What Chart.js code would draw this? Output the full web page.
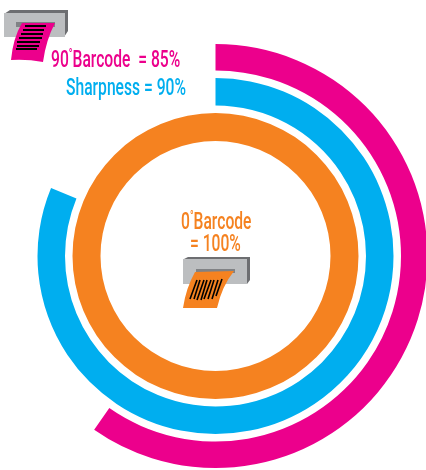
<!DOCTYPE html>
<html>
<head>
<meta charset="utf-8">
<script src="https://cdn.jsdelivr.net/npm/chart.js@4/dist/chart.umd.min.js"></script>
<style>
    html, body { margin: 0; padding: 0; background: #fff; overflow: hidden; }
    #wrap { position: relative; width: 426px; height: 470px; overflow: hidden; }
    #chart { position: absolute; left: 0; top: 0; }
    #icons { position: absolute; left: 0; top: 0; }
    .lbl {
        position: absolute;
        font-family: "Roboto", sans-serif;
        font-size: 23px;
        font-weight: 500;
        line-height: 24px;
        white-space: pre;
        transform-origin: left top;
        transform: scaleX(0.68);
    }
    .deg { font-size: 14px; vertical-align: 8px; }
</style>
</head>
<body>
<div id="wrap">
    <canvas id="chart" width="440" height="470"></canvas>
    <svg id="icons" width="426" height="470">
        <!-- printer, top left -->
        <polygon points="4,14 10,10 68,10 68,31 64,37 64,14" fill="#6d6e71"/>
        <rect x="4" y="13" width="61" height="24" fill="#bcbec0"/>
        <rect x="16" y="22" width="39" height="5" fill="#808285"/>
        <path d="M22,23 L55,23 Q46,40 43,62 Q27,59 11,60 Q13,38 22,23 Z" fill="#ec008c"/>
        <path d="M25,26 H46 M23,30 H44 M21,34 H43 M19,38 H42 M17,42 H40 M17,46 H39 M16,49 H37" stroke="#000" stroke-width="2" fill="none"/>
        <!-- printer, centre -->
        <polygon points="184,259 188,257 250,257 250,280 247,284" fill="#6d6e71"/>
        <rect x="183" y="259" width="64" height="25" fill="#bcbec0"/>
        <rect x="196" y="269" width="39" height="4" fill="#808285"/>
        <path d="M195,272 L234,271 Q222,286 217,308 L183,308 Q186,288 195,272 Z" fill="#f58220"/>
        <path d="M197,280 L190,299 M200,280 L194,299 M204,280 L197,300 M207,280 L201,300 M211,280 L204,299 M214,280 L208,299 M218,280 L212,299 M222,279 L216,296" stroke="#000" stroke-width="1.6" fill="none"/>
    </svg>
    <span class="lbl" style="left:51px;top:42px;color:#ec008c;">90<span class="deg" style="font-weight:bold;">°</span>Barcode  = 85%</span>
    <span class="lbl" style="left:66px;top:76px;color:#00aeef;">Sharpness = 90%</span>
    <span class="lbl" style="left:181px;top:204px;color:#f58220;">0<span class="deg">°</span>Barcode</span>
    <span class="lbl" style="left:190px;top:232px;color:#f58220;">= 100%</span>
</div>
<script>
// Arc lengths as drawn (percent of the full circle)
const ringNames = ['90° Barcode', 'Sharpness', '0° Barcode'];
const arcPercent = [59.7, 81.25, 100];
const ringColors = ['#ec008c', '#00aeef', '#f58220'];
// Ring and gap thickness, outermost first
const ringWeights = [26.5, 27.5, 28];
const gapWeights = [7.5, 7.5];

function ringDataset(i) {
    return {
        label: ringNames[i],
        data: [arcPercent[i], 100 - arcPercent[i]],
        backgroundColor: [ringColors[i], 'rgba(0,0,0,0)'],
        borderWidth: 0,
        weight: ringWeights[i]
    };
}

function gapDataset(i) {
    return {
        label: 'gap',
        data: [100],
        backgroundColor: ['rgba(0,0,0,0)'],
        borderWidth: 0,
        weight: gapWeights[i]
    };
}

new Chart(document.getElementById('chart'), {
    type: 'doughnut',
    data: {
        labels: ['value', 'rest'],
        datasets: [ringDataset(0), gapDataset(0), ringDataset(1), gapDataset(1), ringDataset(2)]
    },
    options: {
        responsive: false,
        animation: false,
        cutout: 115,
        radius: 212,
        layout: { padding: { left: 3.5, right: 12.5, top: 44, bottom: 2 } },
        plugins: {
            legend: { display: false },
            tooltip: { enabled: false }
        }
    }
});
</script>
</body>
</html>
